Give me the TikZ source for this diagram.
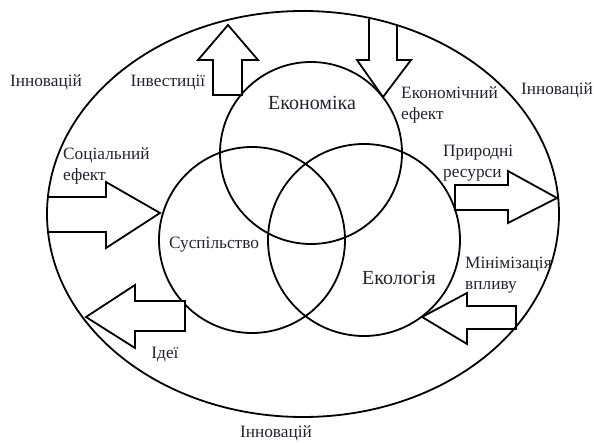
\documentclass[tikz,border=0pt]{standalone}
\usepackage{fontspec}
\setmainfont{Liberation Serif}
\definecolor{txt}{RGB}{35,35,50}
\begin{document}
\begin{tikzpicture}[x=1pt,y=-1pt,
  shape line/.style={draw=black,line width=1.8pt,line join=miter},
  blockarrow/.style={draw=black,line width=1.8pt,fill=white,line join=miter},
  lbl/.style={text=txt,font=\fontsize{17.3}{20.5}\selectfont,inner sep=0pt,align=left},
  big/.style={text=txt,font=\fontsize{20}{24}\selectfont,inner sep=0pt}]
\useasboundingbox (0,0) rectangle (594,443);
% circles
\node[shape line,circle,minimum size=182pt,inner sep=0pt] (econ) at (311,153) {};
\node[shape line,circle,minimum size=186pt,inner sep=0pt] (soc) at (252,240) {};
\node[shape line,circle,minimum size=192pt,inner sep=0pt] (eco) at (364,240) {};
% arrows
% Investments (up)
\draw[blockarrow] (213,95) -- (213,60) -- (198,60) -- (228,25) -- (258,60) -- (242,60) -- (242,95) -- cycle;
% Economic effect (down)
\fill[white] (369,19) -- (369,60) -- (357,60) -- (383,97) -- (411,60) -- (397,60) -- (397,25) -- cycle;
\draw[shape line] (369,19) -- (369,60) -- (357,60) -- (383,97) -- (411,60) -- (397,60) -- (397,25);
% Social effect (right)
\draw[blockarrow] (48,197) -- (106,197) -- (106,182) -- (160,213) -- (106,248) -- (106,232) -- (48,232);
% Ideas (left)
\draw[blockarrow] (185,301) -- (135,301) -- (135,285) -- (86,317) -- (135,348) -- (135,331) -- (185,331) -- cycle;
% Natural resources (right)
\draw[blockarrow] (455,185) -- (508,185) -- (508,171) -- (557,198) -- (508,223) -- (508,210) -- (455,210) -- cycle;
% Minimization (left)
\draw[blockarrow] (516,306) -- (467,306) -- (467,293) -- (422,317) -- (467,344) -- (467,329) -- (516,329) -- cycle;
% outer ellipse (on top, closes the open arrow ends)
\draw[shape line] (303,214) ellipse [x radius=256, y radius=203];
% labels
\node[lbl] (innL) at (46,82) {Інновацій};
\node[lbl] (inv) at (168,82) {Інвестиції};
\node[lbl] (innR) at (557,90) {Інновацій};
\node[lbl] (innB) at (276,433) {Інновацій};
\node[big] (econL) at (312,103) {Економіка};
\node[lbl,anchor=west] (ee) at (401,105) {Економічний\\ефект};
\node[lbl,anchor=west] (nr) at (443,163) {Природні\\ресурси};
\node[lbl,anchor=west] (se) at (63,166) {Соціальний\\ефект};
\node[lbl] (socL) at (214,245) {Суспільство};
\node[big] (ecoL) at (399,278) {Екологія};
\node[lbl,anchor=west] (mi) at (465,275) {Мінімізація\\впливу};
\node[lbl] (ideas) at (165,355) {Ідеї};
\end{tikzpicture}
\end{document}
